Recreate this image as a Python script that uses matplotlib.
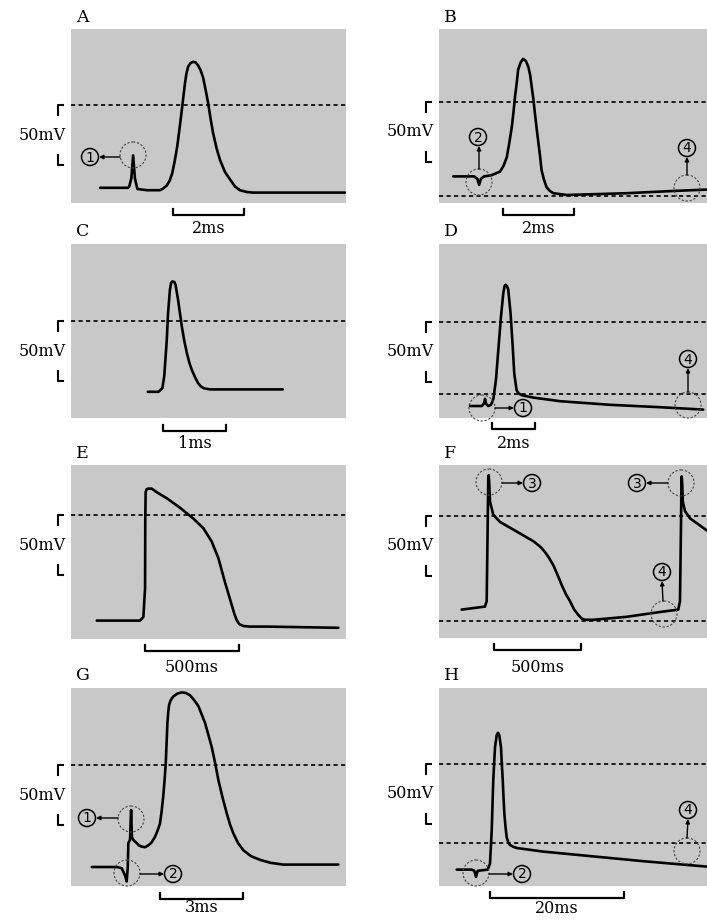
import matplotlib.pyplot as plt
from matplotlib.patches import Circle
from matplotlib.transforms import blended_transform_factory as blend

'''
Data read off the picture: time (ms) and membrane potential (mV)
'''

a_t = [0.82, 1.61, 1.64, 1.70, 1.75, 1.80, 1.87, 2.14, 2.51, 2.60, 2.70, 2.78, 2.85, 2.92, 2.99,
       3.06, 3.13, 3.17, 3.21, 3.25, 3.30, 3.37, 3.44, 3.51, 3.58, 3.65, 3.72, 3.79, 3.86,
       3.93, 4.00, 4.10, 4.20, 4.34, 4.48, 4.62, 4.76, 4.95, 5.13, 7.72]
a_v = [-69, -69, -68, -61, -42, -61, -70, -71, -71, -69.5, -67, -63, -57, -47, -35,
       -19, -2, 8, 18, 26, 32, 35, 36, 35.5, 33, 29, 23, 13, 2,
       -11, -23, -36, -46, -56, -62, -68, -71, -72.5, -73, -73]

b_t = [0.40, 0.78, 0.99, 1.08, 1.13, 1.18, 1.27, 1.48, 1.72, 1.82, 1.91, 1.98, 2.05, 2.10,
       2.14, 2.19, 2.23, 2.30, 2.37, 2.45, 2.52, 2.57, 2.61, 2.66, 2.70, 2.75, 2.80, 2.85,
       2.89, 2.96, 3.03, 3.12, 3.22, 3.60, 5.29, 6.70, 7.54]
b_v = [-62, -62, -62, -64, -69, -64, -62, -61, -58, -53, -46, -34, -21, -8,
       4, 16, 27, 33, 36, 34, 29, 22, 13, 2, -9, -22, -34, -46,
       -57, -65, -71, -74, -76, -77.5, -76, -74, -73]

c_t = [1.22, 1.39, 1.45, 1.48, 1.52, 1.54, 1.57, 1.59, 1.61, 1.64, 1.66, 1.70, 1.76, 1.80,
       1.84, 1.88, 1.92, 1.97, 2.02, 2.06, 2.11, 2.15, 2.21, 3.36]
c_v = [-59, -59, -56, -46, -16, 6, 26, 32, 33, 32.5, 30, 17.5, -5, -17,
       -27, -35, -41, -47, -52, -54.5, -56, -56.5, -57, -57]

d_t = [1.44, 1.99, 2.09, 2.14, 2.19, 2.29, 2.42, 2.53, 2.65, 2.76, 2.88, 2.99, 3.05, 3.10,
       3.16, 3.22, 3.33, 3.43, 3.50, 3.61, 3.70, 3.85, 4.39, 5.63, 7.95, 10.28, 12.29]
d_v = [-70, -70, -68, -64, -68, -70, -69, -64, -48, -23, 4, 24, 30, 31,
       30, 27, 7, -21, -43, -57, -59.5, -61, -63, -66, -69, -71, -73]

e_t = [137, 367, 385, 394, 395, 397, 402, 411, 429, 456, 509, 580, 651, 704, 748, 784, 819,
       855, 868, 881, 895, 917, 950, 1041, 1422]
e_v = [-88, -88, -85, -61, -6, 19, 21.5, 22, 22, 19, 14, 6, -3, -11, -22, -36, -56,
       -75, -82, -87.5, -91, -92.5, -93, -93, -94]

f_t = [130, 264, 274, 280, 283, 286, 289, 293, 312, 351, 447, 542, 560, 585, 609, 633, 657,
       681, 705, 729, 753, 777, 801, 820, 839, 887, 1079, 1270, 1375, 1385, 1391, 1393,
       1395, 1398, 1401, 1414, 1443, 1539]
f_v = [-78, -75.5, -71, -5, 30, 34, 26, 12, 1, -5, -13, -21, -23, -26, -30, -35, -41,
       -49, -57.5, -65, -71, -78, -82.5, -85.5, -86.5, -86.5, -84, -80, -78, -71, -5, 26,
       33, 26, 12, 4, -2, -12]

g_t = [0.75, 1.65, 1.83, 1.95, 2.01, 2.05, 2.07, 2.13, 2.17, 2.20, 2.25, 2.37, 2.45, 2.55,
       2.67, 2.79, 2.91, 3.03, 3.12, 3.21, 3.27, 3.33, 3.38, 3.42, 3.48, 3.51, 3.54, 3.60,
       3.69, 3.84, 4.00, 4.15, 4.30, 4.45, 4.60, 4.72, 4.84, 4.96, 5.08, 5.20, 5.32, 5.47,
       5.62, 5.74, 5.86, 6.03, 6.22, 6.50, 6.82, 7.20, 7.66, 9.65]
g_v = [-85, -85, -86, -92, -97, -85, -65, -62.5, -37.5, -60, -62.5, -65, -67, -68,
       -68.5, -67, -64.5, -60, -55, -49, -39, -26, -12, 1, 35, 44, 50, 54,
       57, 59.5, 60.5, 60, 58, 54, 49, 42, 35, 25, 15, 2, -12.5, -27,
       -40, -49.5, -57, -65, -71, -76, -79, -81.5, -83, -83]

h_t = [2.64, 4.88, 5.27, 5.52, 5.78, 7.27, 7.61, 7.87, 8.10, 8.36, 8.61, 8.81, 9.00, 9.25,
       9.38, 9.51, 9.63, 9.75, 9.92, 10.10, 10.35, 10.60, 11.10, 11.60, 15.57, 23.03, 30.49,
       39.96]
h_v = [-88, -88, -89, -94, -89, -88, -83, -55, -13, 14, 24, 26, 24, 14,
       0, -13, -28, -41, -52, -61, -65.5, -67.5, -69, -70, -73, -77, -81,
       -85.5]

# dashed reference levels (mV)
a_lines = [0]
b_lines = [0, -78]
c_lines = [0]
d_lines = [0, -60]
e_lines = [0]
f_lines = [0, -87.5]
g_lines = [0]
h_lines = [0, -66]

# time scale bars: start, length, label
scale_start = [2.87, 1.80, 1.46, 2.47, 394, 316, 3.21, 7.61]
scale_len = [2, 2, 1, 2, 500, 500, 3, 20]
scale_lab = ["2ms", "2ms", "1ms", "2ms", "500ms", "500ms", "3ms", "20ms"]
letters = ["A", "B", "C", "D", "E", "F", "G", "H"]

traces = [(a_t, a_v), (b_t, b_v), (c_t, c_v), (d_t, d_v),
          (e_t, e_v), (f_t, f_v), (g_t, g_v), (h_t, h_v)]
levels = [a_lines, b_lines, c_lines, d_lines, e_lines, f_lines, g_lines, h_lines]

'''
Layout (pixels)
'''
W, H = 707, 924
GRAY = "#c8c8c8"
SERIF = "DejaVu Serif"
PX_PER_MV = 1.2

# box (x0, y0, x1, y1), px per time unit, y pixel of 0 mV, scale bar y, label baseline
layout = [
    ((71, 29, 346, 203), 35.5, 105, 215, 233),
    ((439, 29, 707, 203), 35.5, 102, 215, 233),
    ((71, 244, 346, 418), 63, 321, 431, 448),
    ((439, 244, 707, 418), 21.5, 322, 429, 448),
    ((71, 465, 346, 639), 0.188, 515, 651, 672),
    ((439, 465, 707, 638), 0.174, 516, 650, 672),
    ((71, 688, 346, 886), 27.7, 765, 899, 912),
    ((439, 688, 707, 886), 6.7, 764, 898, 913),
]

fig = plt.figure(figsize=(W / 100, H / 100), dpi=100)
fig.patch.set_facecolor("white")

over = fig.add_axes([0, 0, 1, 1], zorder=5)
over.set_xlim(0, W)
over.set_ylim(H, 0)
over.axis("off")

for i, (box, pxu, zero_y, bar_y, lab_y) in enumerate(layout):
    x0, y0, x1, y1 = box
    ax = fig.add_axes([x0 / W, 1 - y1 / H, (x1 - x0) / W, (y1 - y0) / H])
    ax.set_xlim(0, (x1 - x0) / pxu)
    ax.set_ylim(-(y1 - zero_y) / PX_PER_MV, (zero_y - y0) / PX_PER_MV)
    ax.set_facecolor(GRAY)
    for s in ax.spines.values():
        s.set_visible(False)
    ax.set_xticks([])
    ax.set_yticks([])

    for lv in levels[i]:
        ax.axhline(lv, color="k", lw=1.2, dashes=(2.5, 2))

    t, v = traces[i]
    ax.plot(t, v, color="k", lw=1.9, solid_joinstyle="round", solid_capstyle="round")

    # 50 mV bracket
    tr = blend(over.transData, ax.transData)
    bx = x0 - 13.5
    ax.plot([bx + 5, bx, bx], [0, 0, -8], transform=tr, clip_on=False, color="k", lw=1.5)
    ax.plot([bx, bx, bx + 5], [-42, -50, -50], transform=tr, clip_on=False, color="k", lw=1.5)
    ax.text(x0 - 5, -25, "50mV", transform=tr, ha="right", va="center",
            fontsize=11.5, family=SERIF)

    # time scale bar
    tr2 = blend(ax.transData, over.transData)
    t0, d = scale_start[i], scale_len[i]
    ax.plot([t0, t0, t0 + d, t0 + d], [bar_y - 6, bar_y, bar_y, bar_y - 6],
            transform=tr2, clip_on=False, color="k", lw=1.6)
    ax.text(t0 + d / 2, lab_y, scale_lab[i], transform=tr2, ha="center", va="baseline",
            fontsize=11.5, family=SERIF)

    over.text(x0 + 5, y0 - 12, letters[i], ha="left", va="center", fontsize=12.5, family=SERIF)


def ring(x, y, r=13):
    over.add_patch(Circle((x, y), r, fill=False, ls=(0, (2, 1.6)), lw=0.8, ec="#444444"))


def num(x, y, n):
    over.add_patch(Circle((x, y), 8.5, fill=False, lw=1.1, ec="k"))
    over.text(x, y + 0.5, str(n), ha="center", va="center", fontsize=10, family="DejaVu Sans")


def arrow(xa, ya, xb, yb):
    over.annotate("", xy=(xb, yb), xytext=(xa, ya),
                  arrowprops=dict(arrowstyle="-|>", lw=1, color="k", mutation_scale=6,
                                  shrinkA=0, shrinkB=0))


# callouts: ring centre, number centre, number, arrow start, arrow end
callouts = [
    ((133, 155), (90, 157), 1, (120, 157), (99, 157)),
    ((479, 182), (478, 137), 2, (479, 169), (479, 146)),
    ((687, 188), (687, 148), 4, (687, 175), (687, 157)),
    ((482, 408), (523, 408), 1, (495, 408), (514, 408)),
    ((688, 405), (688, 359), 4, (688, 392), (688, 368)),
    ((489, 482), (532, 483), 3, (502, 483), (523, 483)),
    ((681, 483), (637, 483), 3, (668, 483), (646, 483)),
    ((664, 614), (662, 572), 4, (663, 601), (662, 581)),
    ((131, 819), (87, 818), 1, (118, 818), (96, 818)),
    ((127, 873), (173, 874), 2, (140, 874), (164, 874)),
    ((476, 873), (522, 874), 2, (489, 874), (513, 874)),
    ((687, 851), (688, 810), 4, (687, 838), (688, 819)),
]
for rc, nc, n, a0, a1 in callouts:
    ring(*rc)
    num(*nc, n)
    arrow(*a0, *a1)

fig.savefig("out.png", dpi=100)
